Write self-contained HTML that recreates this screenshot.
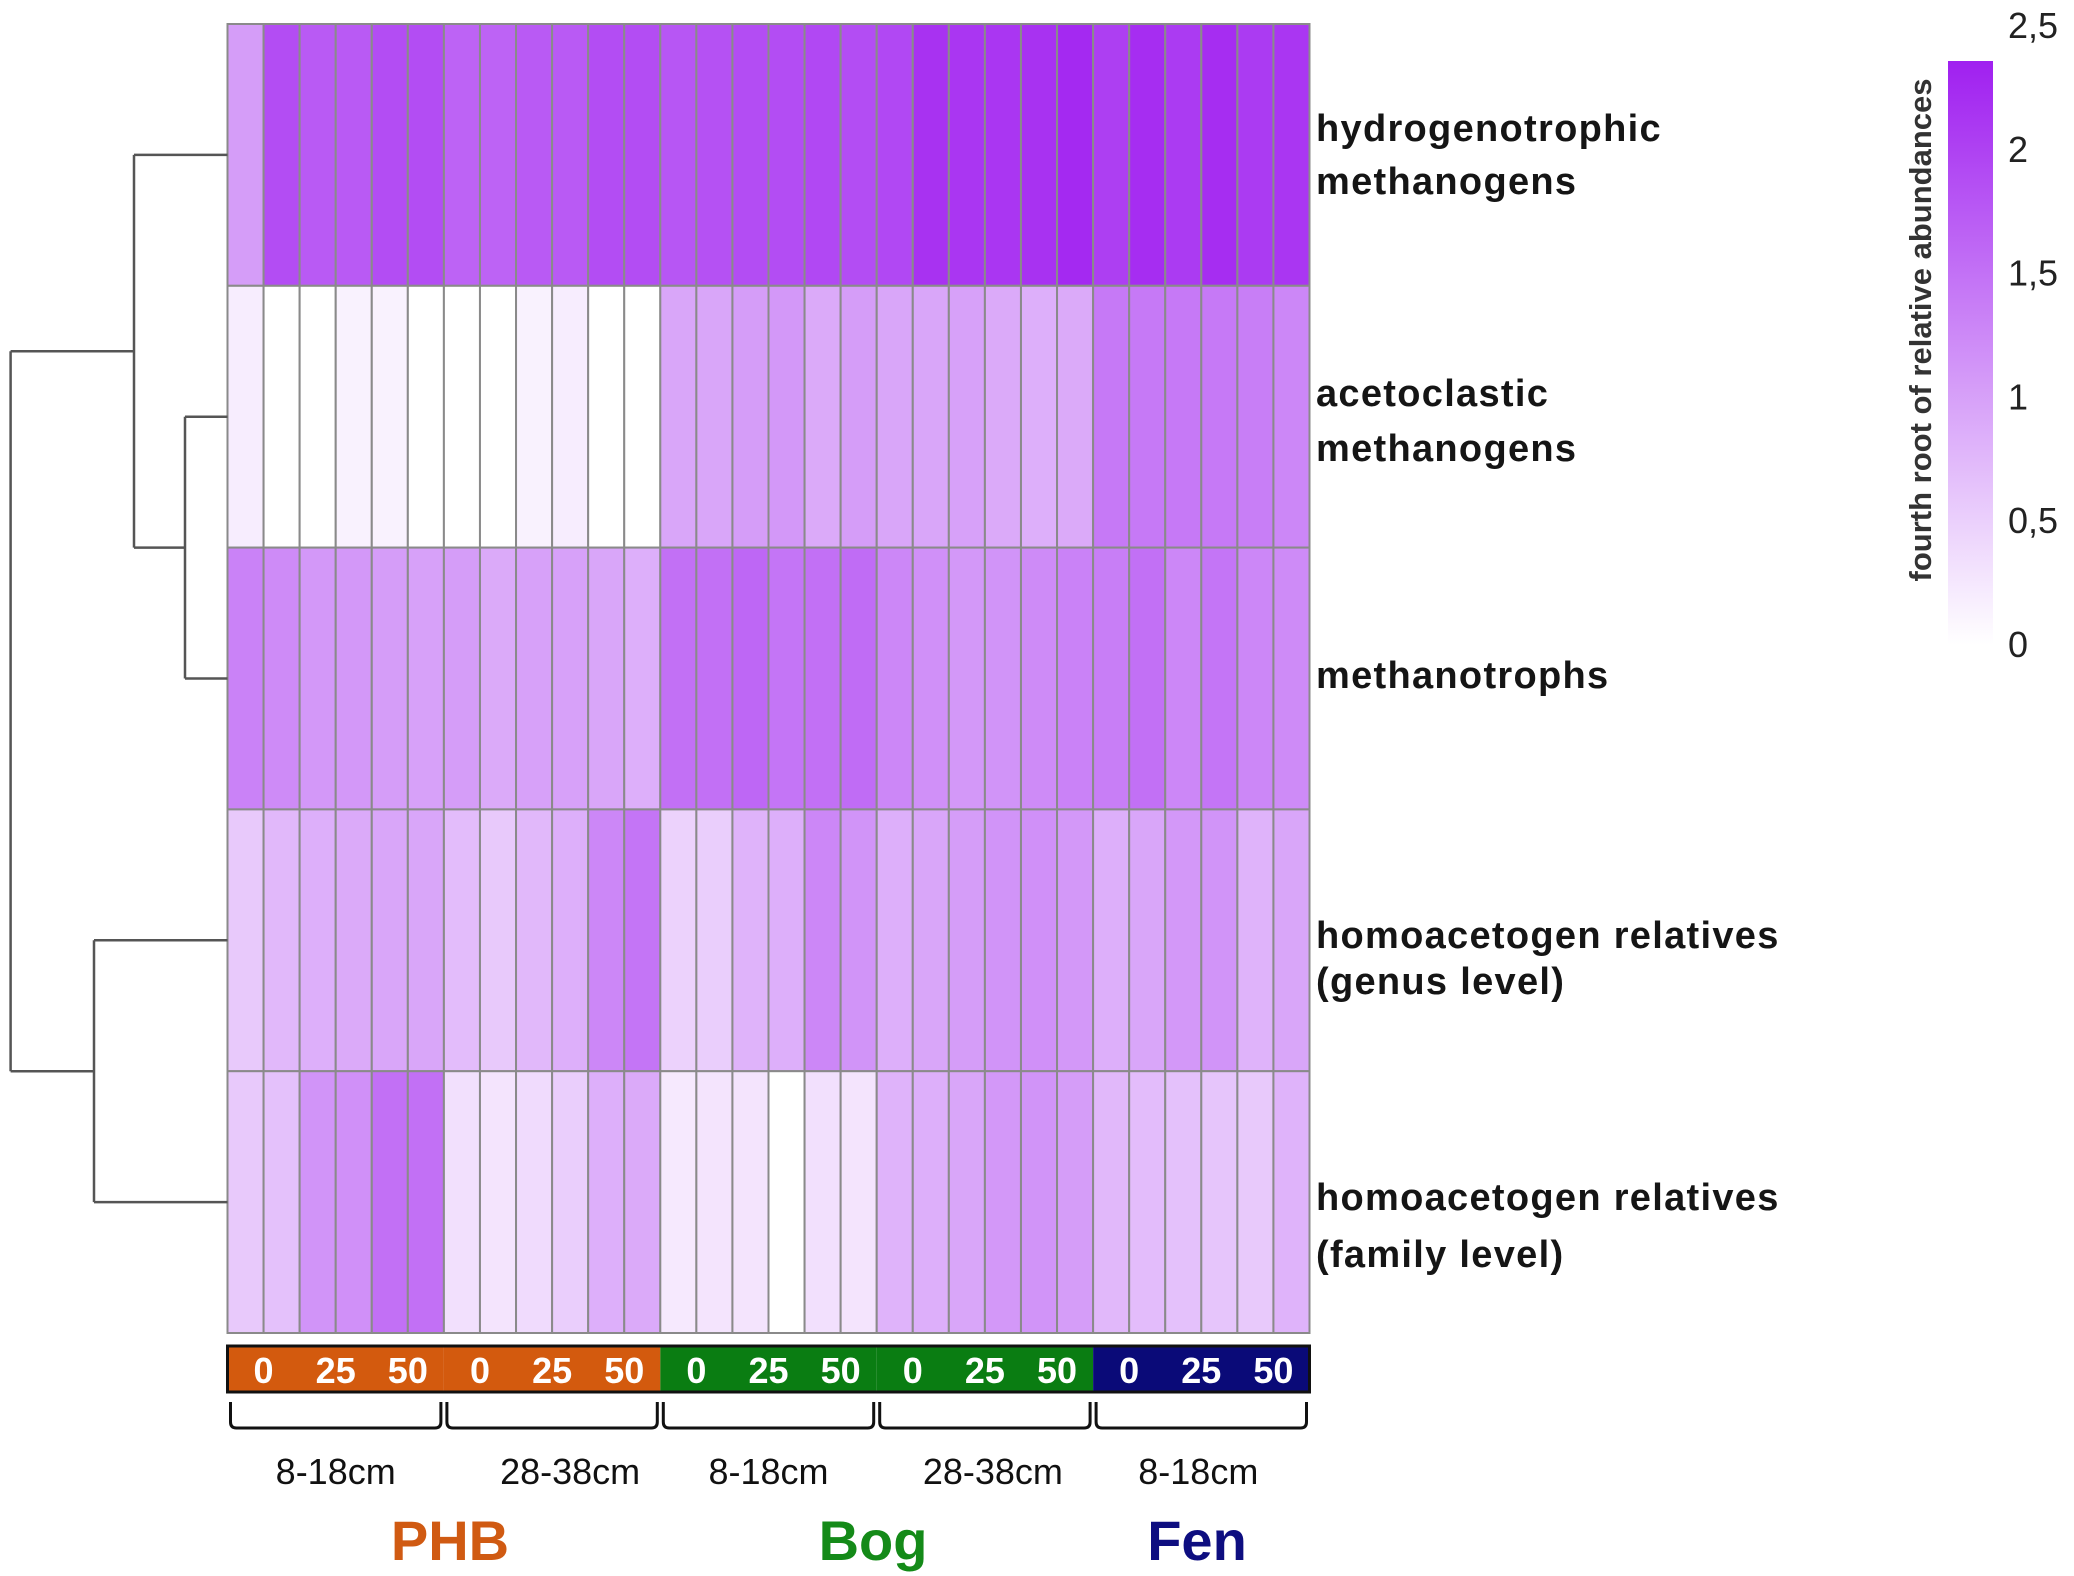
<!DOCTYPE html>
<html><head><meta charset="utf-8">
<style>
html,body{margin:0;padding:0;background:#fff;}
svg{display:block;font-family:"Liberation Sans",Arial,sans-serif;}
</style></head>
<body>
<svg id="chart" width="2074" height="1576" viewBox="0 0 2074 1576" xmlns="http://www.w3.org/2000/svg">
<defs>
<linearGradient id="cbar" x1="0" y1="1" x2="0" y2="0">
<stop offset="0" stop-color="#ffffff"/>
<stop offset="1" stop-color="#a020f0"/>
</linearGradient>
</defs>
<g id="cells"></g>
<g id="dendro"></g>
<g id="rowlabels"></g>
<g id="annot"></g>
<g id="legend">
<rect x="1948" y="61" width="45" height="584" fill="url(#cbar)"/>
<text transform="translate(1931,330) rotate(-90)" text-anchor="middle" font-size="31" font-weight="bold" fill="#333">fourth root of relative abundances</text>
</g>
</svg>
<script>
const rowNames=[["hydrogenotrophic","methanogens"],["acetoclastic","methanogens"],["methanotrophs"],["homoacetogen relatives","(genus level)"],["homoacetogen relatives","(family level)"]];
const row0=[1.1,2.0,1.85,1.85,2.0,2.0,1.75,1.75,1.85,1.85,2.0,2.0,1.9,1.95,2.0,2.0,2.05,2.0,2.05,2.3,2.25,2.25,2.3,2.4,2.15,2.35,2.2,2.35,2.2,2.25];
const row1=[0.2,0,0,0.15,0.15,0,0,0,0.15,0.2,0,0,1.0,1.0,1.1,1.15,0.95,1.1,1.0,1.0,1.05,0.95,0.9,0.95,1.5,1.5,1.5,1.5,1.45,1.35];
const row2=[1.4,1.3,1.15,1.15,1.1,1.05,1.1,0.95,1.05,1.05,1.0,0.9,1.6,1.6,1.7,1.55,1.6,1.65,1.35,1.25,1.15,1.2,1.3,1.4,1.45,1.6,1.35,1.55,1.35,1.3];
const row3=[0.6,0.8,0.9,0.95,1.0,1.0,0.75,0.6,0.8,0.9,1.35,1.55,0.5,0.55,0.85,0.9,1.35,1.2,0.9,1.0,1.1,1.2,1.25,1.15,0.9,1.0,1.15,1.2,0.85,1.0];
const row4=[0.6,0.7,1.2,1.25,1.6,1.6,0.35,0.3,0.4,0.55,0.9,0.95,0.25,0.3,0.3,0,0.35,0.3,0.85,0.9,1.0,1.15,1.2,1.1,0.8,0.75,0.7,0.65,0.6,0.85];
const rows=[row0,row1,row2,row3,row4];
const groups=["PHB","PHB","Bog","Bog","Fen"];
const depths=["8-18cm","28-38cm","8-18cm","28-38cm","8-18cm"];
const doses=["0","25","50"];
const sites=["PHB","Bog","Fen"];
const cbTicks=[0,0.5,1,1.5,2,2.5];
const cbTickLabels=["0","0,5","1","1,5","2","2,5"];

const NS="http://www.w3.org/2000/svg";
const X0=227.5,X1=1309.5,Y0=24,Y1=1333;
const nCol=30,nRow=5;
const cw=(X1-X0)/nCol, rh=(Y1-Y0)/nRow;
const xc=i=>X0+i*cw, yr=j=>Y0+j*rh;
const vmax=2.5;
function color(v){const t=Math.max(0,Math.min(1,v/vmax));
 const r=Math.round(255-t*(255-160)),g=Math.round(255-t*(255-32)),b=Math.round(255-t*(255-240));
 return `rgb(${r},${g},${b})`;}
function mk(tag,attrs,parent){const e=document.createElementNS(NS,tag);for(const k in attrs)e.setAttribute(k,attrs[k]);parent.appendChild(e);return e;}

const cells=document.getElementById('cells');
rows.forEach((row,j)=>row.forEach((v,i)=>{
 const r=mk('rect',{x:xc(i),y:yr(j),width:cw,height:rh,fill:color(v),stroke:'#8a8a8a','stroke-width':2},cells);
 
 
}));

const dg=document.getElementById('dendro');
const rc=j=>Y0+(j+0.5)*rh;
const m12=(rc(1)+rc(2))/2, m012=(rc(0)+m12)/2, m34=(rc(3)+rc(4))/2, xr=10.6;
const segs=[
 [185,rc(1),X0,rc(1)],[185,rc(2),X0,rc(2)],[185,rc(1),185,rc(2)],
 [134,rc(0),X0,rc(0)],[134,m12,185,m12],[134,rc(0),134,m12],
 [94,rc(3),X0,rc(3)],[94,rc(4),X0,rc(4)],[94,rc(3),94,rc(4)],
 [xr,m012,134,m012],[xr,m34,94,m34],[xr,m012,xr,m34]];
segs.forEach(s=>{const l=mk('line',{x1:s[0],y1:s[1],x2:s[2],y2:s[3],stroke:'#555','stroke-width':2.5},dg);
 
 });

const rl=document.getElementById('rowlabels');
const labelY=[[128,181],[393,448],[675],[935,981],[1197,1254]];
rowNames.forEach((lines,j)=>lines.forEach((t,k)=>{
 const e=mk('text',{x:1316,y:labelY[j][k]+13,'font-size':38,'font-weight':'bold','letter-spacing':1.3,fill:'#151515'},rl);
 e.textContent=t;
 
 
}));

const an=document.getElementById('annot');
const siteColor={PHB:'#d35a0e',Bog:'#0a7d12',Fen:'#0a0a78'};
const textColor={PHB:'#d05a12',Bog:'#148a18',Fen:'#0e0e80'};
const depthShift=[0,18,0,8,-3];
const gw=cw*6;
groups.forEach((g,k)=>{
 const gx=X0+k*gw;
 const r=mk('rect',{x:gx,y:1346,width:gw,height:46,fill:siteColor[g]},an);
 
 
 doses.forEach((d,m)=>{const t=mk('text',{x:gx+(2*m+1)*cw,y:1383,'text-anchor':'middle','font-size':36,'font-weight':'bold',fill:'#fff'},an);
  t.textContent=d;
  
  });
 const bx0=gx+3,bx1=gx+gw-3;
 const p=mk('path',{d:`M${bx0},1402 L${bx0},1422 Q${bx0},1428 ${bx0+6},1428 L${bx1-6},1428 Q${bx1},1428 ${bx1},1422 L${bx1},1402`,fill:'none',stroke:'#111','stroke-width':3},an);
 
 
 const dl=mk('text',{x:gx+gw/2+depthShift[k],y:1484,'text-anchor':'middle','font-size':36,fill:'#111'},an);
 dl.textContent=depths[k];
 
 
});
const fr=mk('rect',{x:X0,y:1346,width:X1-X0,height:46,fill:'none',stroke:'#111','stroke-width':3},an);


const siteX=[450,873,1197];
sites.forEach((s,k)=>{const t=mk('text',{x:siteX[k],y:1560,'text-anchor':'middle','font-size':56,'font-weight':'bold',fill:textColor[s]},an);
 t.textContent=s;
 
 });

const lg=document.getElementById('legend');
const cy=v=>645-(v/2.5)*619;
cbTicks.forEach((v,i)=>{const t=mk('text',{x:2008,y:cy(v)+12,'font-size':36,fill:'#222'},lg);
 t.textContent=cbTickLabels[i];
 
 });
</script>
</body></html>
